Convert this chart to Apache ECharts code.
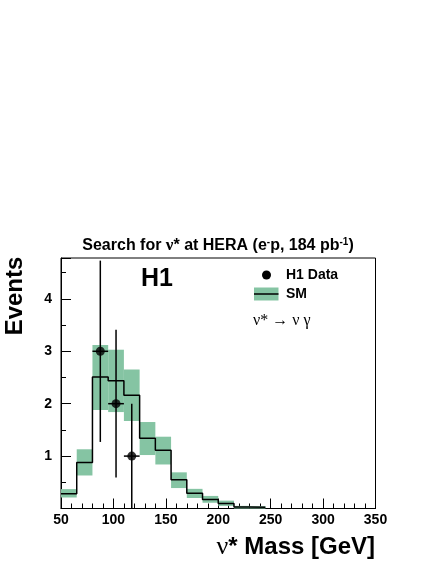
<!DOCTYPE html>
<html>
<head>
<meta charset="UTF-8">
<title>nu* search at HERA</title>
<script src="https://cdn.jsdelivr.net/npm/echarts@6/dist/echarts.min.js"></script>
<style>
  html, body { margin: 0; padding: 0; background: #fff; }
  #chart { width: 436px; height: 564px; }
</style>
</head>
<body>
<div id="chart"></div>
<script>
// SM histogram (15 GeV bins) and its uncertainty band
const binEdges = [50, 65, 80, 95, 110, 125, 140, 155, 170, 185, 200, 215, 230, 245];
const smValues = [0.28, 0.88, 2.51, 2.44, 2.16, 1.34, 1.11, 0.55, 0.29, 0.17, 0.095, 0.027, 0.022];
const smLow    = [0.21, 0.63, 1.88, 1.84, 1.67, 1.02, 0.84, 0.39, 0.20, 0.11, 0.05, 0.0, 0.0];
const smHigh   = [0.37, 1.13, 3.12, 3.03, 2.65, 1.65, 1.37, 0.69, 0.375, 0.24, 0.15, 0.05, 0.045];

// H1 data points
const dataMass = [87.5, 102.5, 117.5];
const dataEvents = [3, 2, 1];
const dataErrLow = [1.27, 0.59, 0];
const dataErrHigh = [4.73, 3.41, 2.0];
const massHalfWidth = 7.5;

const xTicks = [50, 100, 150, 200, 250, 300, 350];
const yMax = 4.78;

const green = 'rgb(133,196,163)';
const sans = 'Liberation Sans, Arial, Helvetica, sans-serif';
const serif = 'Liberation Serif, DejaVu Serif, Times New Roman, serif';

// build series data
const bandData = smValues.map((v, i) => [binEdges[i], binEdges[i + 1], smLow[i], smHigh[i]]);
const lineData = smValues.map((v, i) => [binEdges[i], v]);
lineData.push([binEdges[binEdges.length - 1], smValues[smValues.length - 1]]);
const pointData = dataMass.map((m, i) => [m, dataEvents[i], dataErrLow[i], dataErrHigh[i]]);

const chart = echarts.init(document.getElementById('chart'));

chart.setOption({
  animation: false,
  backgroundColor: '#fff',
  title: {
    left: 'center',
    top: 232,
    text: '{t|Search for }{g|ν}{t|* at HERA (e}{s|-}{t|p, 184 pb}{s|-1}{t|)}',
    textStyle: {
      rich: {
        t: { fontFamily: sans, fontWeight: 'bold', fontSize: 16, color: '#000' },
        g: { fontFamily: serif, fontSize: 17, color: '#000' },
        s: { fontFamily: sans, fontWeight: 'bold', fontSize: 10, color: '#000', verticalAlign: 'top' }
      }
    }
  },
  grid: {
    left: 61, right: 60.5, top: 258, bottom: 55.5,
    show: true, borderColor: '#000', borderWidth: 1, backgroundColor: 'transparent'
  },
  xAxis: {
    type: 'value',
    min: xTicks[0], max: xTicks[xTicks.length - 1], interval: 50,
    axisLine: { show: true, lineStyle: { color: '#000', width: 1 } },
    axisTick: { inside: true, length: 10, lineStyle: { color: '#000' } },
    minorTick: { show: true, splitNumber: 5, length: 5, lineStyle: { color: '#000' } },
    splitLine: { show: false },
    axisLabel: { margin: 5, color: '#000', fontFamily: sans, fontWeight: 'bold', fontSize: 14 }
  },
  yAxis: [{
    type: 'value', position: 'left',
    min: 0, max: yMax, interval: 1,
    axisLine: { show: true, lineStyle: { color: '#000', width: 1 } },
    axisTick: { inside: true, length: 10, lineStyle: { color: '#000' } },
    splitLine: { show: false },
    axisLabel: {
      margin: 9, color: '#000', fontFamily: sans, fontWeight: 'bold', fontSize: 14,
      formatter: v => (v > 0 && Number.isInteger(v)) ? String(v) : ''
    }
  }, {
    type: 'value', position: 'left',
    min: 0, max: yMax, interval: 0.5,
    axisLine: { show: false },
    axisTick: { inside: true, length: 5, lineStyle: { color: '#000' } },
    splitLine: { show: false },
    axisLabel: { show: false }
  }],
  graphic: [
    { type: 'text', x: 157, y: 279, style: { text: 'H1', font: 'bold 25px ' + sans, fill: '#000', textAlign: 'center', textVerticalAlign: 'middle' } },
    { type: 'circle', shape: { cx: 266.5, cy: 275, r: 4.5 }, style: { fill: '#000' } },
    { type: 'text', x: 286, y: 275, style: { text: 'H1 Data', font: 'bold 14px ' + sans, fill: '#000', textVerticalAlign: 'middle' } },
    { type: 'rect', shape: { x: 254, y: 287.5, width: 24.5, height: 13 }, style: { fill: green } },
    { type: 'line', shape: { x1: 254, y1: 294, x2: 278.5, y2: 294 }, style: { stroke: '#000', lineWidth: 1.5 } },
    { type: 'text', x: 286, y: 294, style: { text: 'SM', font: 'bold 14px ' + sans, fill: '#000', textVerticalAlign: 'middle' } },
    { type: 'text', x: 253, y: 321, style: { text: 'ν* → ν γ', font: '16px ' + serif, fill: '#000', textVerticalAlign: 'middle' } },
    {
      type: 'text', x: 375, y: 547,
      style: {
        text: '{g|ν}{b|* Mass [GeV]}', textAlign: 'right', textVerticalAlign: 'middle',
        rich: {
          g: { fontFamily: serif, fontSize: 26, fill: '#000' },
          b: { fontFamily: sans, fontWeight: 'bold', fontSize: 24, fill: '#000' }
        }
      }
    },
    { type: 'text', x: 15, y: 296, rotation: Math.PI / 2, style: { text: 'Events', font: 'bold 24px ' + sans, fill: '#000', textAlign: 'center', textVerticalAlign: 'middle' } }
  ],
  series: [
    {
      name: 'SM band',
      type: 'custom',
      data: bandData,
      z: 1,
      renderItem: (params, api) => {
        const p0 = api.coord([api.value(0), api.value(3)]);
        const p1 = api.coord([api.value(1), api.value(2)]);
        return {
          type: 'rect',
          shape: { x: p0[0], y: p0[1], width: p1[0] - p0[0], height: p1[1] - p0[1] },
          style: { fill: green }
        };
      }
    },
    {
      name: 'SM',
      type: 'line',
      data: lineData,
      step: 'end',
      symbol: 'none',
      z: 2,
      lineStyle: { color: '#000', width: 1.5 }
    },
    {
      name: 'H1 Data errors',
      type: 'custom',
      data: pointData,
      z: 3,
      renderItem: (params, api) => {
        const x = api.value(0), y = api.value(1);
        const lo = api.coord([x, api.value(2)]);
        const hi = api.coord([x, api.value(3)]);
        const l = api.coord([x - massHalfWidth, y]);
        const r = api.coord([x + massHalfWidth, y]);
        return {
          type: 'group',
          children: [
            { type: 'line', shape: { x1: lo[0], y1: lo[1], x2: hi[0], y2: hi[1] }, style: { stroke: '#000', lineWidth: 1.5 } },
            { type: 'line', shape: { x1: l[0], y1: l[1], x2: r[0], y2: r[1] }, style: { stroke: '#000', lineWidth: 1.5 } }
          ]
        };
      }
    },
    {
      name: 'H1 Data',
      type: 'scatter',
      data: pointData.map(d => [d[0], d[1]]),
      symbol: 'circle',
      symbolSize: 9,
      z: 4,
      itemStyle: { color: '#000' }
    }
  ]
});
</script>
</body>
</html>
